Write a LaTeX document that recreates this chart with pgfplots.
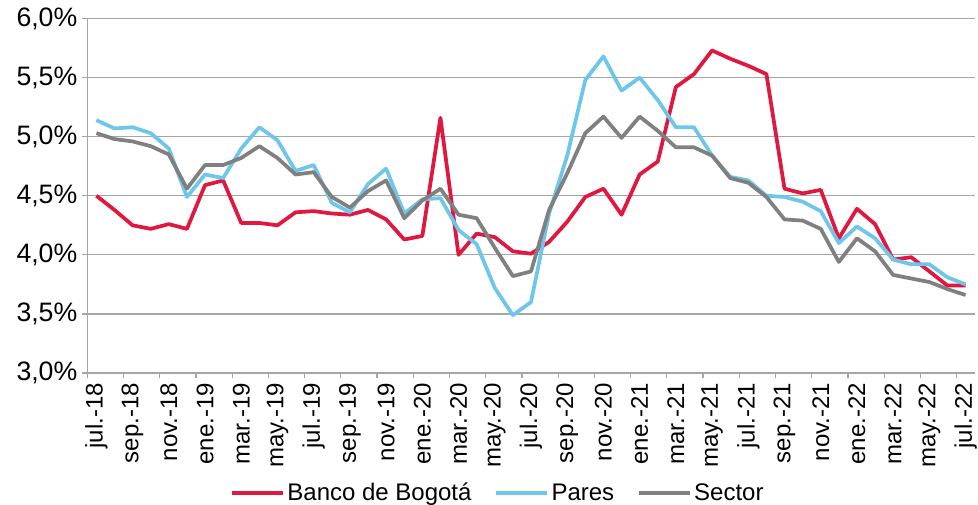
\documentclass[border=0pt]{standalone}
\usepackage{pgfplots}
\pgfplotsset{compat=1.18}
\usepackage{fontspec}
\setmainfont{Liberation Sans}
\definecolor{bbred}{HTML}{E0173F}
\definecolor{pblue}{HTML}{6EC6EA}
\definecolor{sgray}{HTML}{808080}
\definecolor{gridc}{HTML}{A6A6A6}
\begin{document}
\begin{tikzpicture}
\useasboundingbox (-65.5pt,-98.25pt) rectangle (668.1pt,279.8pt);
\begin{axis}[
  at={(0,0)}, anchor=south west,
  scale only axis, width=665.6pt, height=265.9pt,
  xmin=-0.5, xmax=48.5, ymin=3, ymax=6,
  axis x line*=bottom, axis y line*=left,
  axis line style={draw=gridc, line width=0.9pt},
  ytick={3,3.5,4,4.5,5,5.5,6},
  yticklabels={{3,0\%},{3,5\%},{4,0\%},{4,5\%},{5,0\%},{5,5\%},{6,0\%}},
  ymajorgrids, grid style={draw=gridc, line width=0.9pt},
  tick align=outside,
  ytick style={draw=gridc, line width=0.9pt},
  major tick length=4pt,
  xtick={0,2,...,48},
  xticklabels={jul.-18,sep.-18,nov.-18,ene.-19,mar.-19,may.-19,jul.-19,sep.-19,nov.-19,ene.-20,mar.-20,may.-20,jul.-20,sep.-20,nov.-20,ene.-21,mar.-21,may.-21,jul.-21,sep.-21,nov.-21,ene.-22,mar.-22,may.-22,jul.-22},
  xtick style={draw=none},
  extra x ticks={-0.5,1.5,...,47.5},
  extra x tick labels={},
  extra x tick style={grid=none, xtick style={draw=gridc, line width=0.9pt}},
  xticklabel style={rotate=90, anchor=east, font=\fontsize{18}{18}\selectfont},
  yticklabel style={font=\fontsize{20}{20}\selectfont},
  legend style={at={(0.463,-0.338)}, anchor=center, draw=none, fill=none,
    font=\fontsize{18}{18}\selectfont, legend columns=3,
    /tikz/every even column/.append style={column sep=15pt}},
  legend image code/.code={\draw[#1, line width=3pt] (0pt,0pt) -- (38pt,0pt);},
  every axis plot/.append style={line width=2.8pt, line join=round},
]
\addplot[bbred] coordinates {
(0,4.50)(1,4.38)(2,4.25)(3,4.22)(4,4.26)(5,4.22)(6,4.59)(7,4.63)(8,4.27)(9,4.27)
(10,4.25)(11,4.36)(12,4.37)(13,4.35)(14,4.34)(15,4.38)(16,4.30)(17,4.13)(18,4.16)(19,5.16)
(20,4.00)(21,4.18)(22,4.15)(23,4.03)(24,4.01)(25,4.11)(26,4.28)(27,4.49)(28,4.56)(29,4.34)
(30,4.68)(31,4.79)(32,5.42)(33,5.53)(34,5.73)(35,5.66)(36,5.60)(37,5.53)(38,4.56)(39,4.52)
(40,4.55)(41,4.14)(42,4.39)(43,4.26)(44,3.96)(45,3.98)(46,3.86)(47,3.74)(48,3.74)};
\addlegendentry{Banco de Bogotá}
\addplot[pblue] coordinates {
(0,5.14)(1,5.07)(2,5.08)(3,5.03)(4,4.90)(5,4.49)(6,4.68)(7,4.65)(8,4.90)(9,5.08)
(10,4.97)(11,4.71)(12,4.76)(13,4.44)(14,4.36)(15,4.60)(16,4.73)(17,4.35)(18,4.47)(19,4.48)
(20,4.21)(21,4.09)(22,3.72)(23,3.49)(24,3.60)(25,4.35)(26,4.84)(27,5.48)(28,5.68)(29,5.39)
(30,5.50)(31,5.31)(32,5.08)(33,5.08)(34,4.84)(35,4.66)(36,4.63)(37,4.50)(38,4.49)(39,4.45)
(40,4.37)(41,4.10)(42,4.24)(43,4.14)(44,3.96)(45,3.92)(46,3.92)(47,3.81)(48,3.75)};
\addlegendentry{Pares}
\addplot[sgray] coordinates {
(0,5.03)(1,4.98)(2,4.96)(3,4.92)(4,4.85)(5,4.56)(6,4.76)(7,4.76)(8,4.82)(9,4.92)
(10,4.82)(11,4.68)(12,4.70)(13,4.49)(14,4.40)(15,4.54)(16,4.63)(17,4.31)(18,4.46)(19,4.56)
(20,4.34)(21,4.31)(22,4.06)(23,3.82)(24,3.86)(25,4.38)(26,4.69)(27,5.03)(28,5.17)(29,4.99)
(30,5.17)(31,5.05)(32,4.91)(33,4.91)(34,4.84)(35,4.65)(36,4.61)(37,4.49)(38,4.30)(39,4.29)
(40,4.22)(41,3.94)(42,4.14)(43,4.03)(44,3.83)(45,3.80)(46,3.77)(47,3.71)(48,3.66)};
\addlegendentry{Sector}
\end{axis}
\end{tikzpicture}
\end{document}
